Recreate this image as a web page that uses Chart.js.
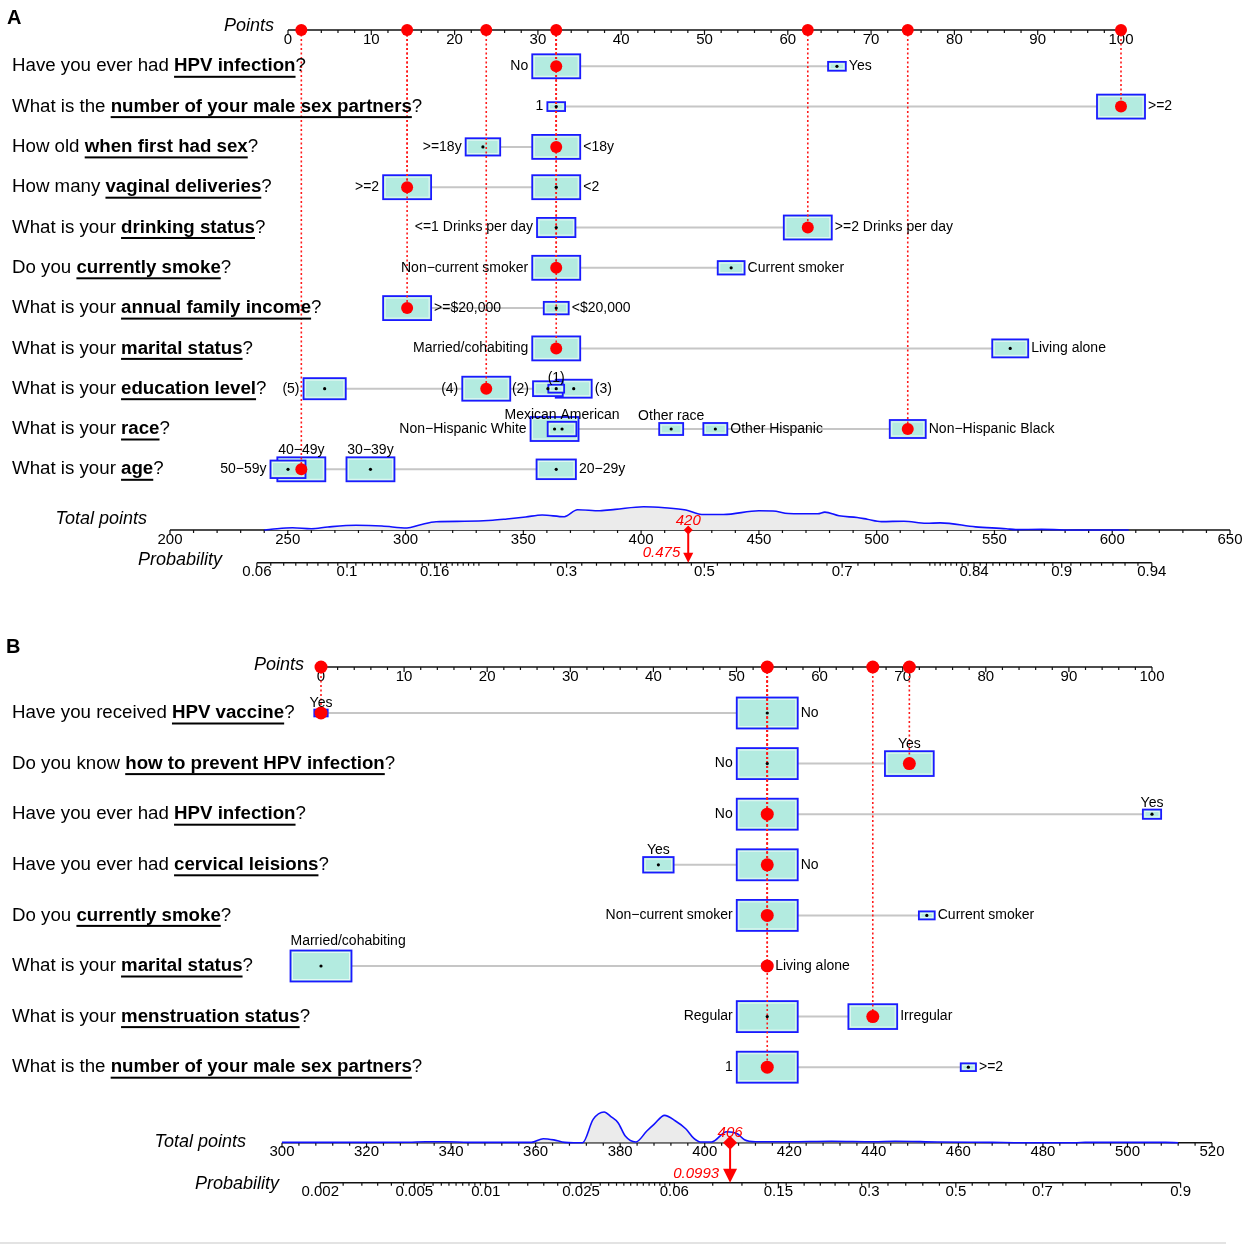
<!DOCTYPE html>
<html>
<head>
<meta charset="utf-8">
<script src="https://cdn.jsdelivr.net/npm/chart.js@4.4.1/dist/chart.umd.min.js"></script>
<style>
  html, body { margin: 0; padding: 0; background: #fff; }
  .panel { position: absolute; left: 0; width: 1248px; }
  #wrapA { top: 0; height: 620px; }
  #wrapB { top: 620px; height: 628px; }
</style>
</head>
<body>
<div class="panel" id="wrapA"><canvas id="nomoA"></canvas></div>
<div class="panel" id="wrapB"><canvas id="nomoB"></canvas></div>
<script>
// ---------- panel A data ----------
const questionsA = [
  ["Have you ever had ", "HPV infection", "?"],
  ["What is the ", "number of your male sex partners", "?"],
  ["How old ", "when first had sex", "?"],
  ["How many ", "vaginal deliveries", "?"],
  ["What is your ", "drinking status", "?"],
  ["Do you ", "currently smoke", "?"],
  ["What is your ", "annual family income", "?"],
  ["What is your ", "marital status", "?"],
  ["What is your ", "education level", "?"],
  ["What is your ", "race", "?"],
  ["What is your ", "age", "?"]
];
const levelsA = [
  ["No", "Yes"],
  ["1", ">=2"],
  [">=18y", "<18y"],
  [">=2", "<2"],
  ["<=1 Drinks per day", ">=2 Drinks per day"],
  ["Non\u2212current smoker", "Current smoker"],
  [">=$20,000", "<$20,000"],
  ["Married/cohabiting", "Living alone"],
  ["(5)", "(4)", "(2)", "(1)", "(3)"],
  ["Non\u2212Hispanic White", "Mexican American", "Other race", "Other Hispanic", "Non\u2212Hispanic Black"],
  ["50\u221259y", "40\u221249y", "30\u221239y", "20\u221229y"]
];
const pointsA = [
  [32.2, 65.9],
  [32.2, 100],
  [23.4, 32.2],
  [14.3, 32.2],
  [32.2, 62.4],
  [32.2, 53.2],
  [14.3, 32.2],
  [32.2, 86.7],
  [4.4, 23.8, 31.2, 32.2, 34.3],
  [32.0, 32.9, 46.0, 51.3, 74.4],
  [0, 1.6, 9.9, 32.2]
];
// relative share of each level (box size)
const shareA = [
  [1, 0.37],
  [0.37, 1],
  [0.72, 1],
  [1, 1],
  [0.8, 1],
  [1, 0.56],
  [1, 0.52],
  [1, 0.75],
  [0.88, 1, 0.62, 0.33, 0.75],
  [1, 0.6, 0.5, 0.5, 0.75],
  [0.73, 1, 1, 0.82]
];
const labelSideA = [
  ["l", "r"], ["l", "r"], ["l", "r"], ["l", "r"], ["l", "r"], ["l", "r"],
  ["r", "r"], ["l", "r"], ["l", "l", "l", "t", "r"],
  ["l", "t", "t", "r", "r"], ["l", "t", "t", "r"]
];
const chosenA = [0, 1, 1, 0, 1, 0, 0, 0, 1, 4, 1];
const densityTotalA = [240, 243, 252, 260, 267, 279, 290, 300.6, 306, 313, 325, 337, 343, 351, 358, 367.4,
  373, 382.5, 389, 401, 410, 419, 425.7, 435, 450, 456, 462.5, 475, 478, 484, 491.7, 496, 502, 511.6,
  521, 527, 542, 555, 559, 570, 585, 607];
const densityA = [0, 0.7, 2.3, 1.3, 3.0, 4.7, 4.0, 2.0, 5.0, 8.3, 8.7, 9.7, 11.0, 13.0, 15.0, 13.3,
  20.3, 19.3, 20.6, 23.3, 22.3, 20.0, 15.5, 15.5, 19.2, 19.0, 16.5, 16.2, 17.9, 14.2, 12.5, 10.8, 8.4, 8.8,
  6.7, 7.1, 3.1, 1.3, 0.4, 0.6, 0, 0];
const totalTicksA = [200, 250, 300, 350, 400, 450, 500, 550, 600, 650];
const probTicksA = [0.06, 0.1, 0.16, 0.3, 0.5, 0.7, 0.84, 0.9, 0.94];
const totalA = 420;
const probA = 0.475;

// ---------- panel B data ----------
const questionsB = [
  ["Have you received ", "HPV vaccine", "?"],
  ["Do you know ", "how to prevent HPV infection", "?"],
  ["Have you ever had ", "HPV infection", "?"],
  ["Have you ever had ", "cervical leisions", "?"],
  ["Do you ", "currently smoke", "?"],
  ["What is your ", "marital status", "?"],
  ["What is your ", "menstruation status", "?"],
  ["What is the ", "number of your male sex partners", "?"]
];
const levelsB = [
  ["Yes", "No"],
  ["No", "Yes"],
  ["No", "Yes"],
  ["Yes", "No"],
  ["Non\u2212current smoker", "Current smoker"],
  ["Married/cohabiting", "Living alone"],
  ["Regular", "Irregular"],
  ["1", ">=2"]
];
const pointsB = [
  [0, 53.7],
  [53.7, 70.8],
  [53.7, 100],
  [40.6, 53.7],
  [53.7, 72.9],
  [0, 53.7],
  [53.7, 66.4],
  [53.7, 77.9]
];
const shareB = [
  [0.22, 1],
  [1, 0.8],
  [1, 0.3],
  [0.5, 1],
  [1, 0.26],
  [1, 0.16],
  [1, 0.8],
  [1, 0.25]
];
const labelSideB = [
  ["t", "r"], ["l", "t"], ["l", "t"], ["t", "r"], ["l", "r"], ["tl", "r"], ["l", "r"], ["l", "r"]
];
const chosenB = [0, 1, 0, 1, 0, 1, 1, 0];
const densityTotalB = [300, 320, 330, 334, 339, 344, 351, 359, 361.8, 364.3, 366.9, 369, 371.1, 373.6,
  376.2, 377.8, 379.5, 381.2, 383.7, 386.3, 388, 390.5, 393, 395.5, 397.5, 399, 401.6, 405.2, 407.7,
  409.4, 412, 420, 430, 440, 445, 455, 468, 475, 488, 490, 509, 512];
const densityB = [0.3, 0.3, 0.5, 1.0, 1.0, 0.3, 0.3, 0.3, 4.0, 2.8, 0.3, 0, 0, 23.3,
  30.7, 26.1, 20.0, 6.6, 0.7, 11.7, 18.3, 27.3, 22.0, 14.0, 4.0, 0.7, 0.7, 11.0, 9.0,
  3.0, 1.0, 1.0, 1.5, 1.0, 1.5, 0.7, 0.3, 0, 0, 0.3, 0.3, 0];
const totalTicksB = [300, 320, 340, 360, 380, 400, 420, 440, 460, 480, 500, 520];
const probTicksB = [0.002, 0.005, 0.01, 0.025, 0.06, 0.15, 0.3, 0.5, 0.7, 0.9];
const totalB = 406;
const probB = 0.0993;

const pointTicks = [0, 10, 20, 30, 40, 50, 60, 70, 80, 90, 100];

const FAM = '"Liberation Sans", Arial, Helvetica, sans-serif';

function steps(a, b, step) {
  const out = [];
  for (let v = a + step; v < b - step * 1e-6; v += step) out.push(+v.toFixed(6));
  return out;
}
function withoutMajors(list, majors) {
  return list.filter(m => !majors.some(M => Math.abs(M - m) < 1e-9));
}
function logit(p) { return Math.log(p / (1 - p)); }

function hAxis(ctx, y, x0, x1, majors, minors, toPx, fmt) {
  ctx.save();
  ctx.strokeStyle = "#111";
  ctx.lineWidth = 1.5;
  ctx.beginPath();
  ctx.moveTo(x0, y);
  ctx.lineTo(x1, y);
  ctx.stroke();
  ctx.lineWidth = 1.2;
  ctx.beginPath();
  minors.forEach(v => { const p = toPx(v); ctx.moveTo(p, y); ctx.lineTo(p, y + 3); });
  majors.forEach(v => { const p = toPx(v); ctx.moveTo(p, y); ctx.lineTo(p, y + 5); });
  ctx.stroke();
  ctx.fillStyle = "#000";
  ctx.font = "15px " + FAM;
  ctx.textAlign = "center";
  ctx.textBaseline = "top";
  majors.forEach(v => ctx.fillText(fmt(v), toPx(v), y + 2));
  ctx.restore();
}

function makePanel(canvasId, P) {
  const L = P.layout;
  const ppp = (L.p100 - L.p0) / 100;
  const yMin = 1 - (L.row1 - L.top) / L.gap;
  const yMax = yMin + (L.bottom - L.top) / L.gap;
  // probability -> total points through the model's logit line
  const probToTotal = p => P.probCenter + P.probSlope * logit(p);

  const redData = P.chosen.map((c, i) => ({ x: P.points[i][c], y: i + 1 }));
  [...new Set(redData.map(d => d.x))].forEach(v => redData.push({ x: v, y: yMin }));
  const centerData = [];
  P.points.forEach((pts, i) => pts.forEach(v => centerData.push({ x: v, y: i + 1 })));

  const datasets = [
    { role: "red", data: redData, showLine: false, pointRadius: L.redR, pointHoverRadius: L.redR,
      pointBackgroundColor: "#ff0000", pointBorderWidth: 0, order: 0, clip: false },
    { role: "centers", data: centerData, showLine: false, pointRadius: 1.6,
      pointBackgroundColor: "#000", pointBorderWidth: 0, order: 1, clip: false },
    { role: "density", xAxisID: "xt", yAxisID: "yd",
      data: P.densX.map((t, k) => ({ x: t, y: P.densY[k] })),
      showLine: true, pointRadius: 0, borderColor: "#1010ff", borderWidth: 1.6,
      fill: "origin", backgroundColor: "#ebebeb", cubicInterpolationMode: "monotone", order: 2, clip: false }
  ];
  P.points.forEach((pts, i) => datasets.push({
    role: "range", data: [{ x: Math.min(...pts), y: i + 1 }, { x: Math.max(...pts), y: i + 1 }],
    showLine: true, pointRadius: 0, borderColor: "#c6c6c6", borderWidth: 2, order: 3
  }));

  const plugin = {
    id: "nomo" + canvasId,
    beforeDatasetsDraw(chart) {
      const ctx = chart.ctx, xs = chart.scales.x, xt = chart.scales.xt;
      // points axis
      hAxis(ctx, L.top, xs.getPixelForValue(0), xs.getPixelForValue(100), pointTicks,
        withoutMajors(steps(0, 100, 2), pointTicks), v => xs.getPixelForValue(v), v => String(v));
      // total points axis
      const tt = P.totalTicks;
      hAxis(ctx, L.bottom, xt.getPixelForValue(tt[0]), xt.getPixelForValue(tt[tt.length - 1]), tt,
        withoutMajors(steps(tt[0], tt[tt.length - 1], P.totalMinor), tt), v => xt.getPixelForValue(v), v => String(v));
      // probability axis
      const pt = P.probTicks;
      const pPx = p => xt.getPixelForValue(probToTotal(p));
      hAxis(ctx, L.probY, pPx(pt[0]), pPx(pt[pt.length - 1]), pt,
        withoutMajors(P.probMinor, pt), pPx, v => String(v));
    },
    beforeDatasetDraw(chart, args) {
      if (chart.data.datasets[args.index].role !== "centers") return;
      const ctx = chart.ctx, xs = chart.scales.x, ys = chart.scales.y;
      ctx.save();
      P.points.forEach((pts, i) => {
        const yc = ys.getPixelForValue(i + 1);
        const idx = pts.map((_, j) => j).sort((a, b) => P.share[i][b] - P.share[i][a]);
        idx.forEach(j => {
          const w = L.boxW * P.share[i][j], h = L.boxH * P.share[i][j];
          const xc = xs.getPixelForValue(pts[j]);
          ctx.fillStyle = "#b3ebe0";
          ctx.fillRect(xc - w / 2, yc - h / 2, w, h);
          ctx.strokeStyle = "#e4f8f3";
          ctx.lineWidth = 1;
          ctx.strokeRect(xc - w / 2 + 2, yc - h / 2 + 2, w - 4, h - 4);
          ctx.strokeStyle = "#1a1aff";
          ctx.lineWidth = 1.8;
          ctx.strokeRect(xc - w / 2, yc - h / 2, w, h);
        });
      });
      // dotted guides from the points axis to each chosen level
      ctx.strokeStyle = "#ff1a1a";
      ctx.lineWidth = 1.6;
      ctx.setLineDash([2, 2.5]);
      P.chosen.forEach((c, i) => {
        const x = xs.getPixelForValue(P.points[i][c]);
        ctx.beginPath();
        ctx.moveTo(x, L.top);
        ctx.lineTo(x, ys.getPixelForValue(i + 1));
        ctx.stroke();
      });
      ctx.restore();
    },
    afterDraw(chart) {
      const ctx = chart.ctx, xs = chart.scales.x, ys = chart.scales.y, xt = chart.scales.xt;
      ctx.save();
      ctx.fillStyle = "#000";
      // level labels
      ctx.font = "14px " + FAM;
      P.levels.forEach((lv, i) => {
        const yc = ys.getPixelForValue(i + 1);
        lv.forEach((name, j) => {
          const w = L.boxW * P.share[i][j], h = L.boxH * P.share[i][j];
          const xc = xs.getPixelForValue(P.points[i][j]);
          const side = P.sides[i][j];
          if (side === "l") {
            ctx.textAlign = "right"; ctx.textBaseline = "middle";
            ctx.fillText(name, xc - w / 2 - 4, yc);
          } else if (side === "r") {
            ctx.textAlign = "left"; ctx.textBaseline = "middle";
            ctx.fillText(name, xc + w / 2 + 3, yc);
          } else if (side === "t") {
            ctx.textAlign = "center"; ctx.textBaseline = "alphabetic";
            ctx.fillText(name, xc, yc - h / 2 - 3);
          } else {
            ctx.textAlign = "left"; ctx.textBaseline = "alphabetic";
            ctx.fillText(name, xc - w / 2, yc - h / 2 - 6);
          }
        });
      });
      // questions with underlined key words
      ctx.textAlign = "left";
      ctx.textBaseline = "middle";
      P.questions.forEach((q, i) => {
        const y = ys.getPixelForValue(i + 1);
        let x = 12;
        ctx.font = "18.7px " + FAM;
        ctx.fillText(q[0], x, y);
        x += ctx.measureText(q[0]).width;
        ctx.font = "bold 18.7px " + FAM;
        ctx.fillText(q[1], x, y);
        const bw = ctx.measureText(q[1]).width;
        ctx.fillRect(x, y + 9.5, bw, 2);
        x += bw;
        ctx.font = "18.7px " + FAM;
        ctx.fillText(q[2], x, y);
      });
      // axis titles
      ctx.font = "italic 18px " + FAM;
      ctx.textAlign = "right";
      ctx.fillText("Points", L.pointsTitle[0], L.pointsTitle[1]);
      ctx.fillText("Total points", L.totalTitle[0], L.totalTitle[1]);
      ctx.fillText("Probability", L.probTitle[0], L.probTitle[1]);
      // panel letter
      ctx.font = "bold 20px " + FAM;
      ctx.textAlign = "left";
      ctx.fillText(P.letter, L.letter[0], L.letter[1]);
      // total -> probability marker
      const px = xt.getPixelForValue(P.total);
      const M = L.marker;
      ctx.fillStyle = "#ff0000";
      ctx.strokeStyle = "#ff0000";
      ctx.lineWidth = 2;
      ctx.beginPath();
      ctx.moveTo(px, L.bottom);
      ctx.lineTo(px, L.probY - M.headH + 1);
      ctx.stroke();
      ctx.beginPath();
      ctx.moveTo(px - M.headW / 2, L.probY - M.headH);
      ctx.lineTo(px + M.headW / 2, L.probY - M.headH);
      ctx.lineTo(px, L.probY);
      ctx.closePath();
      ctx.fill();
      ctx.beginPath();
      ctx.moveTo(px, L.bottom - M.dia);
      ctx.lineTo(px + M.dia, L.bottom);
      ctx.lineTo(px, L.bottom + M.dia);
      ctx.lineTo(px - M.dia, L.bottom);
      ctx.closePath();
      ctx.fill();
      ctx.font = "italic " + M.font + "px " + FAM;
      ctx.textAlign = "center";
      ctx.fillText(String(P.total), px, L.bottom - M.totalDy);
      ctx.textAlign = "right";
      ctx.fillText(String(P.prob), px - M.probDx, L.probY - M.probDy);
      if (L.rule) {
        ctx.fillStyle = "#e3e3e3";
        ctx.fillRect(0, L.rule, 1226, 2);
      }
      ctx.restore();
    }
  };

  return new Chart(document.getElementById(canvasId), {
    type: "line",
    data: { datasets },
    options: {
      responsive: true,
      maintainAspectRatio: false,
      animation: false,
      events: [],
      layout: { padding: { left: L.left, right: L.width - L.right, top: L.top, bottom: L.height - L.bottom } },
      plugins: { legend: { display: false }, tooltip: { enabled: false } },
      scales: {
        x: { type: "linear", display: false, min: -(L.p0 - L.left) / ppp, max: 100 + (L.right - L.p100) / ppp },
        xt: { type: "linear", axis: "x", display: false, min: P.totalTicks[0], max: P.totalTicks[P.totalTicks.length - 1] },
        y: { type: "linear", display: false, reverse: true, min: yMin, max: yMax },
        yd: { type: "linear", axis: "y", display: false, min: 0, max: L.bottom - L.top }
      }
    },
    plugins: [plugin]
  });
}

makePanel("nomoA", {
  letter: "A",
  questions: questionsA, levels: levelsA, points: pointsA, share: shareA, sides: labelSideA, chosen: chosenA,
  densX: densityTotalA, densY: densityA,
  totalTicks: totalTicksA, totalMinor: 10,
  probTicks: probTicksA,
  probMinor: [...steps(0.06, 0.2, 0.005), 0.2, ...steps(0.2, 0.8, 0.02), 0.8, ...steps(0.8, 0.94, 0.005)],
  probCenter: 426.85, probSlope: 69.04,
  total: totalA, prob: probA,
  layout: {
    width: 1248, height: 620, left: 170, right: 1230, top: 30, bottom: 530, probY: 562.7,
    p0: 288, p100: 1121, row1: 66.3, gap: 40.3, boxW: 48, boxH: 24, redR: 6,
    pointsTitle: [274, 26], totalTitle: [147, 519], probTitle: [222, 560], letter: [7, 18],
    marker: { dia: 4.5, headW: 10, headH: 10, font: 15, totalDy: 9, probDx: 8, probDy: 10 }
  }
});

makePanel("nomoB", {
  letter: "B",
  questions: questionsB, levels: levelsB, points: pointsB, share: shareB, sides: labelSideB, chosen: chosenB,
  densX: densityTotalB, densY: densityB,
  totalTicks: totalTicksB, totalMinor: 4,
  probTicks: probTicksB,
  probMinor: [...steps(0.002, 0.01, 0.0005), ...steps(0.01, 0.06, 0.0025), ...steps(0.06, 0.3, 0.025), ...steps(0.3, 0.9, 0.04)],
  probCenter: 459.4, probSlope: 24.2,
  total: totalB, prob: probB,
  layout: {
    width: 1248, height: 628, left: 282, right: 1212, top: 47, bottom: 522.7, probY: 562.7,
    p0: 321, p100: 1152, row1: 93, gap: 50.6, boxW: 61, boxH: 31, redR: 6.5,
    pointsTitle: [304, 45], totalTitle: [246, 522], probTitle: [279, 564], letter: [6, 27],
    marker: { dia: 7, headW: 14, headH: 14, font: 15, totalDy: 10, probDx: 11, probDy: 9 },
    rule: 622
  }
});
</script>
</body>
</html>
